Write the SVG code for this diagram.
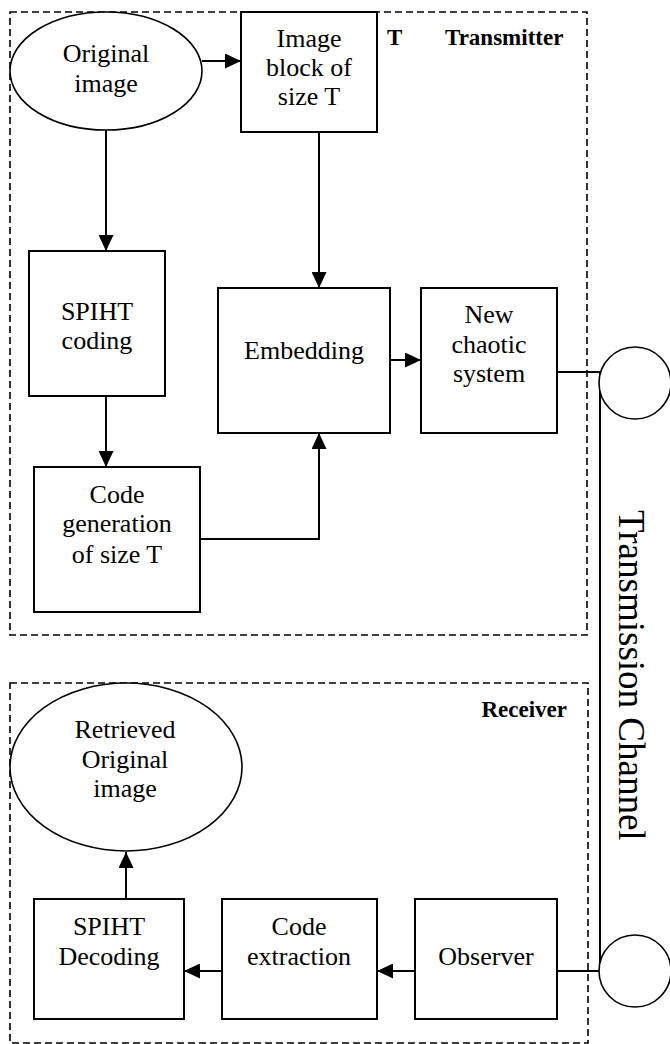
<svg xmlns="http://www.w3.org/2000/svg" width="670" height="1044" viewBox="0 0 670 1044">
<style>
.box{fill:#fff;stroke:#000;stroke-width:2}
.ell{fill:#fff;stroke:#000;stroke-width:1.6}
.dash{fill:none;stroke:#000;stroke-width:1.6;stroke-dasharray:7,4}
.ln{fill:none;stroke:#000;stroke-width:2}
.arr{fill:none;stroke:#000;stroke-width:2;marker-end:url(#ah)}
.t{font-family:"Liberation Serif","Times New Roman",serif;font-size:26px;text-anchor:middle;fill:#000}
.b{font-family:"Liberation Serif","Times New Roman",serif;font-size:23px;font-weight:bold;fill:#000}
.c{font-family:"Liberation Serif","Times New Roman",serif;font-size:37px;fill:#000}
</style>
<defs>
<marker id="ah" markerUnits="userSpaceOnUse" markerWidth="16" markerHeight="15" refX="16" refY="7.5" orient="auto">
<path d="M0,0 L16,7.5 L0,15 z" fill="#000"/>
</marker>
</defs>
<g id="transmitter-frame">
<rect class="dash" x="10" y="12" width="577" height="623"/>
<text class="b" x="387" y="45">T</text>
<text class="b" x="445" y="45">Transmitter</text>
</g>
<g id="receiver-frame">
<rect class="dash" x="10" y="683" width="578" height="360"/>
<text class="b" x="567" y="717" text-anchor="end">Receiver</text>
</g>
<g id="connectors">
<line class="arr" x1="202" y1="61" x2="241" y2="61"/>
<line class="arr" x1="106" y1="130" x2="106" y2="251"/>
<line class="arr" x1="319" y1="132" x2="319" y2="288"/>
<line class="arr" x1="106" y1="396" x2="106" y2="467"/>
<polyline class="arr" points="200,539 319,539 319,433"/>
<line class="arr" x1="390" y1="360" x2="421" y2="360"/>
<polyline class="ln" points="557,372 600,372 600,971 557,971"/>
<line class="arr" x1="415" y1="971" x2="377" y2="971"/>
<line class="arr" x1="222" y1="971" x2="184" y2="971"/>
<line class="arr" x1="126" y1="899" x2="126" y2="852"/>
</g>
<g id="original-image">
<ellipse class="ell" cx="106" cy="71" rx="96" ry="59"/>
<text class="t" x="106" y="62">Original</text>
<text class="t" x="106" y="92">image</text>
</g>
<g id="image-block">
<rect class="box" x="241" y="12" width="136" height="120"/>
<text class="t" x="309" y="47">Image</text>
<text class="t" x="309" y="76">block of</text>
<text class="t" x="309" y="105">size T</text>
</g>
<g id="spiht-coding">
<rect class="box" x="29" y="251" width="136" height="145"/>
<text class="t" x="97" y="320">SPIHT</text>
<text class="t" x="97" y="349">coding</text>
</g>
<g id="code-generation">
<rect class="box" x="34" y="467" width="166" height="145"/>
<text class="t" x="117" y="503">Code</text>
<text class="t" x="117" y="532">generation</text>
<text class="t" x="117" y="563">of size T</text>
</g>
<g id="embedding">
<rect class="box" x="218" y="288" width="172" height="145"/>
<text class="t" x="304" y="359">Embedding</text>
</g>
<g id="new-chaotic-system">
<rect class="box" x="421" y="288" width="136" height="145"/>
<text class="t" x="489" y="323">New</text>
<text class="t" x="489" y="353">chaotic</text>
<text class="t" x="489" y="382">system</text>
</g>
<g id="channel-top">
<circle class="ell" cx="635" cy="383" r="36"/>
</g>
<g id="channel-bottom">
<circle class="ell" cx="635" cy="971" r="36"/>
</g>
<g id="transmission-channel">
<text class="c" x="619" y="510" transform="rotate(90 619 510)">Transmission Channel</text>
</g>
<g id="retrieved-image">
<ellipse class="ell" cx="126" cy="767" rx="116" ry="84"/>
<text class="t" x="125" y="738">Retrieved</text>
<text class="t" x="125" y="768">Original</text>
<text class="t" x="125" y="797">image</text>
</g>
<g id="spiht-decoding">
<rect class="box" x="34" y="899" width="150" height="120"/>
<text class="t" x="109" y="935">SPIHT</text>
<text class="t" x="109" y="965">Decoding</text>
</g>
<g id="code-extraction">
<rect class="box" x="222" y="899" width="155" height="120"/>
<text class="t" x="299" y="935">Code</text>
<text class="t" x="299" y="965">extraction</text>
</g>
<g id="observer">
<rect class="box" x="415" y="899" width="142" height="120"/>
<text class="t" x="486" y="965">Observer</text>
</g>
</svg>
